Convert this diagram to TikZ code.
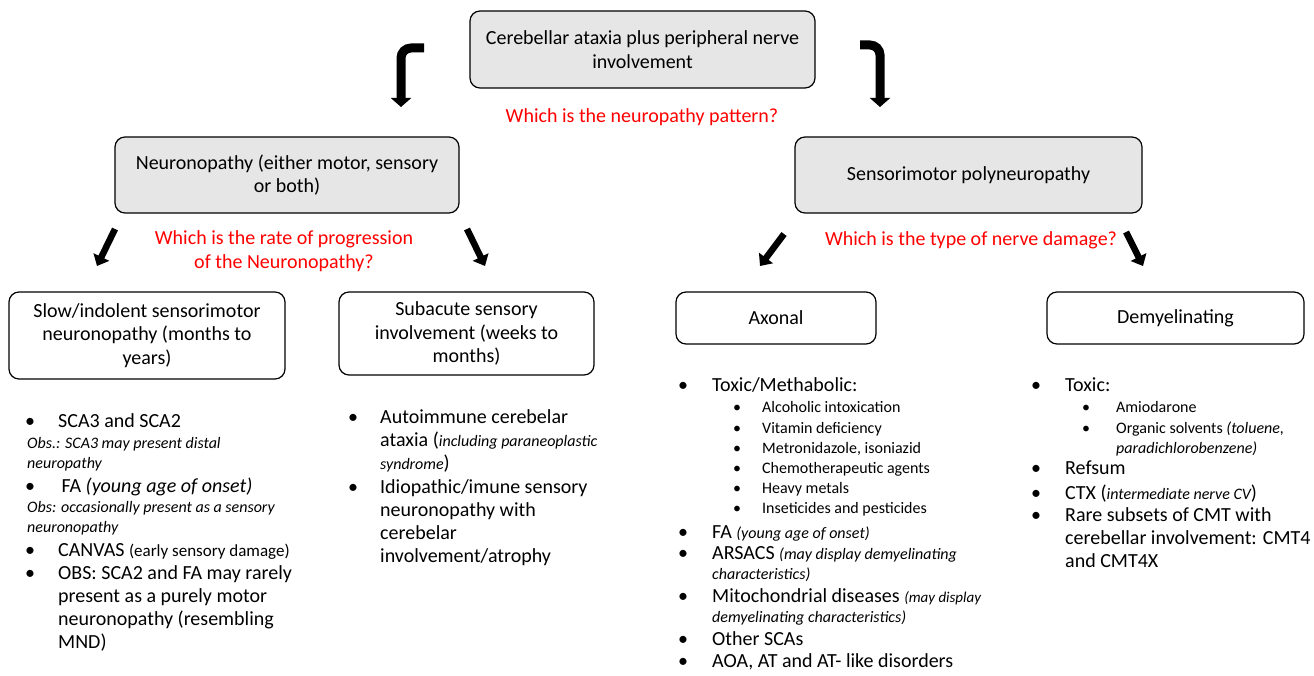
\documentclass[tikz,border=0pt]{standalone}
\usepackage{fontspec}
\setmainfont{Carlito}
\usetikzlibrary{arrows.meta}

\definecolor{boxgray}{RGB}{230,230,230}
\definecolor{askred}{RGB}{255,0,0}

\newcommand{\bitem}[2]{\makebox[#1][l]{\textbullet}\begin{tabular}[t]{@{}l@{}}#2\end{tabular}}
\newcommand{\rows}[1]{\begin{tabular}[t]{@{}l@{}}#1\end{tabular}}
\newcommand{\sm}{\fontsize{16}{20}\selectfont}

\tikzset{
  box/.style={draw=black, line width=1.2pt, rounded corners=10pt, inner sep=0pt, align=center, font=\fontsize{20}{23.5}\selectfont},
  graybox/.style={box, fill=boxgray},
  ask/.style={text=askred, align=center, inner sep=0pt, font=\fontsize{20}{23.5}\selectfont},
  entry/.style={anchor=base west, inner sep=0pt, font=\fontsize{20}{23}\selectfont},
  subentry/.style={anchor=base west, inner sep=0pt, font=\fontsize{16}{20}\selectfont},
  note/.style={anchor=base west, inner sep=0pt, font=\fontsize{16}{20}\selectfont\itshape},
  bigarrow/.style={line width=9pt, rounded corners=10pt, -{Triangle[length=9pt,width=20pt]}},
  arrow/.style={line width=6.5pt, -{Triangle[length=10pt,width=17pt]}},
}

\begin{document}
\begin{tikzpicture}[x=1pt, y=-1pt]
\useasboundingbox (0,0) rectangle (1314,676);

% boxes
\node[graybox, minimum width=345pt, minimum height=77pt] (top) at (642.5,49.5) {Cerebellar ataxia plus peripheral nerve\\involvement};
\node[graybox, minimum width=344pt, minimum height=76pt] (neur) at (287,175) {Neuronopathy (either motor, sensory\\or both)};
\node[graybox, minimum width=347pt, minimum height=76pt] (poly) at (968.5,175) {Sensorimotor polyneuropathy};
\node[box, minimum width=276pt, minimum height=87pt] (slow) at (147,335.5) {Slow/indolent sensorimotor\\neuronopathy (months to\\years)};
\node[box, minimum width=255pt, minimum height=83pt] (subac) at (466.5,333.5) {Subacute sensory\\involvement (weeks to\\months)};
\node[box, minimum width=200pt, minimum height=52pt] (axon) at (776,318) {Axonal};
\node[box, minimum width=257pt, minimum height=52pt] (demy) at (1175.5,318) {Demyelinating};

% questions
\node[ask] (q1) at (642,117) {Which is the neuropathy pattern?};
\node[ask] (q2) at (284,251) {Which is the rate of progression\\of the Neuronopathy?};
\node[ask] (q3) at (971,240) {Which is the type of nerve damage?};

% arrows
\coordinate (l0) at (424,48);
\coordinate (l1) at (401,107);
\coordinate (r0) at (860,45);
\coordinate (r1) at (880,107);
\draw[bigarrow] (l0) -| (l1);
\draw[bigarrow] (r0) -| (r1);
\coordinate (n0) at (115,229);
\coordinate (n1) at (97,266);
\coordinate (n2) at (467,229);
\coordinate (n3) at (485,266);
\coordinate (p0) at (784,234);
\coordinate (p1) at (760,266);
\coordinate (p2) at (1126,232);
\coordinate (p3) at (1143,266);
\draw[arrow] (n0) -- (n1);
\draw[arrow] (n2) -- (n3);
\draw[arrow] (p0) -- (p1);
\draw[arrow] (p2) -- (p3);

% slow / indolent
\node[entry] (s1) at (25,427) {\bitem{33pt}{SCA3 and SCA2}};
\node[note] (s1n) at (27,448) {\rows{Obs.: SCA3 may present distal\\neuropathy}};
\node[entry] (s2) at (25,492) {\bitem{33pt}{\,FA \textit{(young age of onset)}}};
\node[note] (s2n) at (27,512) {\rows{Obs: occasionally present as a sensory\\neuronopathy}};
\node[entry] (s3) at (25,556) {\bitem{33pt}{CANVAS {\fontsize{17}{20}\selectfont(early sensory damage)}}};
\node[entry] (s4) at (25,579) {\bitem{33pt}{OBS: SCA2 and FA may rarely\\present as a purely motor\\neuronopathy (resembling\\MND)}};

% subacute
\node[entry] (a1) at (348,423) {\bitem{32pt}{Autoimmune cerebelar\\ataxia ({\sm\itshape including paraneoplastic}\\{\sm\itshape syndrome})}};
\node[entry] (a2) at (348,493) {\bitem{32pt}{Idiopathic/imune sensory\\neuronopathy with\\cerebelar\\involvement/atrophy}};

% axonal
\node[entry] (x1) at (678,391) {\bitem{34pt}{Toxic/Methabolic:}};
\node[subentry] (x1a) at (733,412) {\bitem{29pt}{Alcoholic intoxication}};
\node[subentry] (x1b) at (733,433) {\bitem{29pt}{Vitamin deficiency}};
\node[subentry] (x1c) at (733,453) {\bitem{29pt}{Metronidazole, isoniazid}};
\node[subentry] (x1d) at (733,473) {\bitem{29pt}{Chemotherapeutic agents}};
\node[subentry] (x1e) at (733,493) {\bitem{29pt}{Heavy metals}};
\node[subentry] (x1f) at (733,513) {\bitem{29pt}{Inseticides and pesticides}};
\node[entry] (x2) at (678,538) {\bitem{34pt}{FA {\sm\itshape (young age of onset)}}};
\node[entry] (x3) at (678,559) {\bitem{34pt}{ARSACS {\sm\itshape (may display demyelinating}\\[-3pt]{\sm\itshape characteristics)}}};
\node[entry] (x4) at (678,602) {\bitem{34pt}{Mitochondrial diseases {\fontsize{15}{18}\selectfont\itshape (may display}\\[-3pt]{\sm\itshape demyelinating characteristics)}}};
\node[entry] (x5) at (678,645) {\bitem{34pt}{Other SCAs}};
\node[entry] (x6) at (678,667) {\bitem{34pt}{AOA, AT and AT- like disorders}};

% demyelinating
\node[entry] (d1) at (1031,391) {\bitem{34pt}{Toxic:}};
\node[subentry] (d1a) at (1082,412) {\bitem{34pt}{Amiodarone}};
\node[subentry] (d1b) at (1082,433) {\bitem{34pt}{Organic solvents \textit{(toluene,}\\\textit{paradichlorobenzene)}}};
\node[entry] (d2) at (1031,474) {\bitem{34pt}{Refsum}};
\node[entry] (d3) at (1031,499) {\bitem{34pt}{CTX ({\sm\itshape intermediate nerve CV})}};
\node[entry] (d4) at (1031,521) {\bitem{34pt}{Rare subsets of CMT with\\cerebellar involvement: CMT4\\and CMT4X}};
\end{tikzpicture}
\end{document}
